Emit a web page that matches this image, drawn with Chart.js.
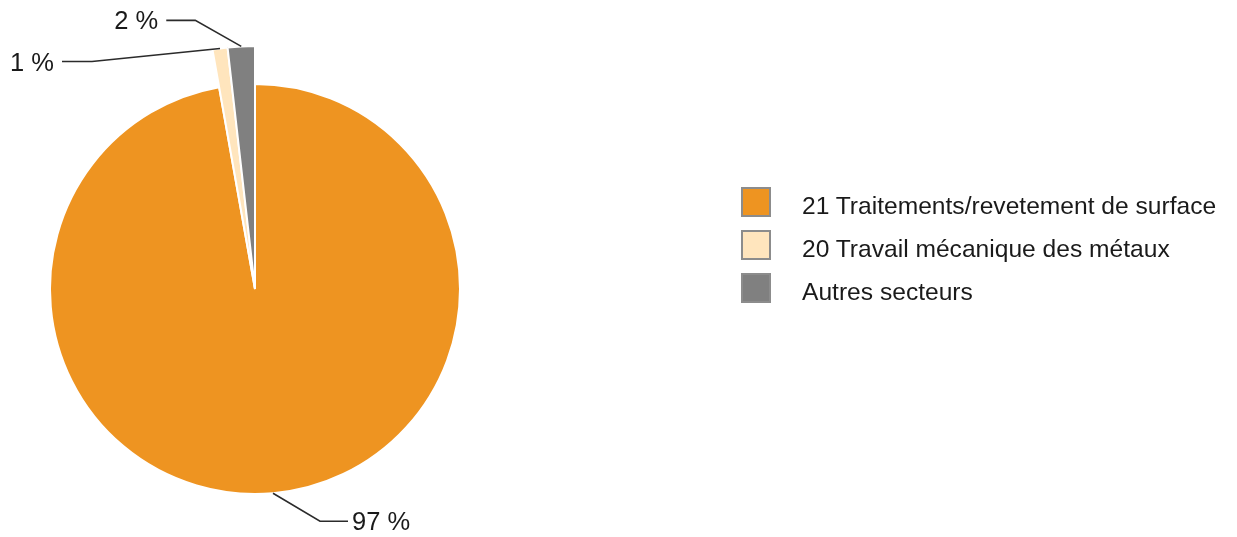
<!DOCTYPE html>
<html>
<head>
<meta charset="utf-8">
<script src="https://cdn.jsdelivr.net/npm/chart.js@4/dist/chart.umd.min.js"></script>
<style>
  body { margin: 0; background: #fff; }
  #wrap { position: relative; width: 1237px; height: 537px; }
  #chart { position: absolute; left: 0; top: 0; }
  #legend { position: absolute; left: 741px; top: 187px; font-family: "Liberation Sans", Arial, sans-serif; font-size: 24.6px; color: #1a1a1a; }
  .row { position: relative; height: 43px; }
  .box { position: absolute; left: 0; top: 0; width: 30px; height: 30px; box-sizing: border-box; border: 2px solid #8c8c8c; }
  .txt { position: absolute; left: 61px; top: 4px; line-height: 30px; white-space: nowrap; }
</style>
</head>
<body>
<div id="wrap">
  <canvas id="chart" width="1237" height="537"></canvas>
  <div id="legend"></div>
</div>
<script>
const sectors    = ["21 Traitements/revetement de surface", "20 Travail mécanique des métaux", "Autres secteurs"];
const shares     = [97.2, 1.0, 1.8];
const pctLabels  = ["97 %", "1 %", "2 %"];
const colours    = ["#ee9421", "#ffe5bd", "#808080"];

// how the small slices stick out, and where each leader line bends
const extraRadius = [0, 38, 38];
const leaders = [
    { dx: 47,   dy: 28,  run: 28,  side: 1,  gap: 4 },
    { dx: -128, dy: 13,  run: 30,  side: -1, gap: 8 },
    { dx: -46,  dy: -26, run: 29,  side: -1, gap: 8 }
];

const stretchSlices = {
    id: "stretchSlices",
    beforeDatasetsDraw(chart) {
        const meta = chart.getDatasetMeta(0);
        const base = meta.controller.outerRadius;
        meta.data.forEach((arc, i) => { arc.outerRadius = base + extraRadius[i]; });
    }
};

const leaderLabels = {
    id: "leaderLabels",
    afterDatasetsDraw(chart) {
        const ctx = chart.ctx;
        const meta = chart.getDatasetMeta(0);
        ctx.save();
        ctx.strokeStyle = "#2b2b2b";
        ctx.lineWidth = 1.6;
        ctx.fillStyle = "#1a1a1a";
        ctx.font = "25.5px 'Liberation Sans', Arial, sans-serif";
        ctx.textBaseline = "middle";
        meta.data.forEach((arc, i) => {
            const mid = (arc.startAngle + arc.endAngle) / 2;
            const ax = arc.x + Math.cos(mid) * arc.outerRadius;
            const ay = arc.y + Math.sin(mid) * arc.outerRadius;
            const l = leaders[i];
            const ex = ax + l.dx, ey = ay + l.dy;
            const hx = ex + l.run * l.side;
            ctx.beginPath();
            ctx.moveTo(ax, ay);
            ctx.lineTo(ex, ey);
            ctx.lineTo(hx, ey);
            ctx.stroke();
            ctx.textAlign = l.side > 0 ? "left" : "right";
            ctx.fillText(pctLabels[i], hx + l.gap * l.side, ey + 2);
        });
        ctx.restore();
    }
};

const context = document.getElementById("chart");

const chart = new Chart(context, {
    type: "pie",
    data: {
        labels: sectors,
        datasets: [{
            data: shares,
            backgroundColor: colours,
            borderColor: "#ffffff",
            borderWidth: 2
        }]
    },
    options: {
        responsive: false,
        animation: false,
        radius: 205,
        layout: { padding: { left: 50, right: 777, top: 84, bottom: 43 } },
        plugins: {
            legend: { display: false },
            tooltip: { enabled: false }
        }
    },
    plugins: [stretchSlices, leaderLabels]
});

const legend = document.getElementById("legend");
sectors.forEach((name, i) => {
    const row = document.createElement("div");
    row.className = "row";
    row.innerHTML = '<div class="box" style="background:' + colours[i] + '"></div><div class="txt">' + name + '</div>';
    legend.appendChild(row);
});
</script>
</body>
</html>
